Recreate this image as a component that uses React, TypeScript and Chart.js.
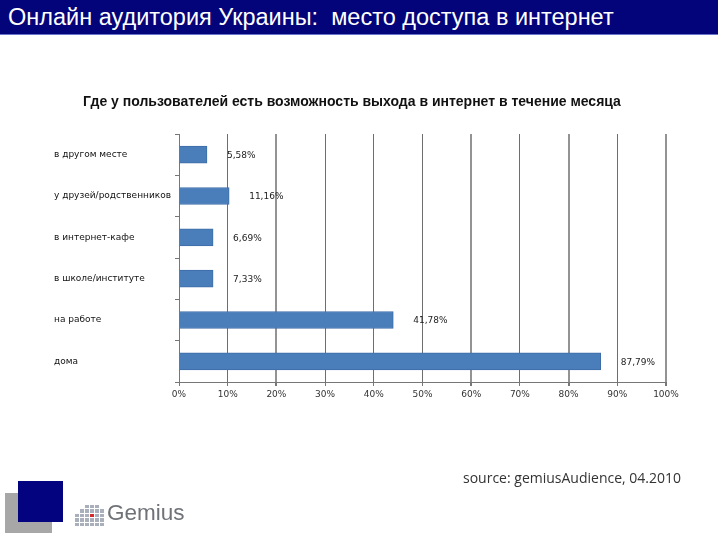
import React, { useEffect, useRef } from "react";
import { Chart, registerables } from "chart.js";

Chart.register(...registerables);

const categories = [
  "в другом месте",
  "у друзей/родственников",
  "в интернет-кафе",
  "в школе/институте",
  "на работе",
  "дома",
];
// bar lengths as drawn in the picture (%)
const barValues = [5.75, 10.3, 7.0, 7.0, 44.0, 86.6];
// value labels as printed in the picture
const valueLabels = ["5,58%", "11,16%", "6,69%", "7,33%", "41,78%", "87,79%"];
const xTicks = [0, 10, 20, 30, 40, 50, 60, 70, 80, 90, 100];

const chartTitle =
  "Где у пользователей есть возможность выхода в интернет в течение месяца";
const headerTitle = "Онлайн аудитория Украины:  место доступа в интернет";
const sourceText = "source: gemiusAudience, 04.2010";

const FONT = "'DejaVu Sans', sans-serif";

const valueLabelPlugin = {
  id: "valueLabels",
  afterDatasetsDraw(chart: any) {
    const ctx = chart.ctx;
    const meta = chart.getDatasetMeta(0);
    ctx.save();
    ctx.font = `9px ${FONT}`;
    ctx.fillStyle = "#222";
    ctx.textAlign = "left";
    ctx.textBaseline = "middle";
    meta.data.forEach((bar: any, i: number) => {
      ctx.fillText(valueLabels[i], bar.x + 20, bar.y + 1);
    });
    ctx.restore();
  },
};

const titlePlugin = {
  id: "customTitle",
  afterDraw(chart: any) {
    const ctx = chart.ctx;
    ctx.save();
    ctx.font = `bold 14px 'Liberation Sans', Arial, sans-serif`;
    ctx.fillStyle = "#111";
    ctx.textAlign = "center";
    ctx.textBaseline = "middle";
    ctx.fillText(chartTitle, 352, 102);
    ctx.restore();
  },
};

function ChartCanvas() {
  const ref = useRef<HTMLCanvasElement>(null);
  useEffect(() => {
    if (!ref.current) return;
    const chart = new Chart(ref.current, {
      type: "bar",
      data: {
        labels: categories,
        datasets: [
          {
            data: barValues,
            backgroundColor: "#4a7ebb",
            borderColor: "#3d6da6",
            borderWidth: 1,
            barThickness: 17,
          },
        ],
      },
      options: {
        indexAxis: "y",
        animation: false,
        responsive: false,
        devicePixelRatio: 1,
        layout: { padding: { left: 54, top: 134, right: 54, bottom: 0 } },
        plugins: {
          legend: { display: false },
          title: { display: false },
          tooltip: { enabled: false },
        },
        scales: {
          x: {
            min: 0,
            max: 100,
            afterBuildTicks(scale: any) {
              scale.ticks = xTicks.map((v) => ({ value: v }));
            },
            afterFit(scale: any) {
              scale.height = 540 - 382;
            },
            ticks: {
              callback: (v: any) => `${v}%`,
              font: { family: FONT, size: 9 },
              color: "#333",
              padding: 3,
              maxRotation: 0,
            },
            grid: {
              color: (c: any) => ([20, 60, 80, 100].includes(c.tick?.value) ? "#939393" : "#6e6e6e"),
              lineWidth: (c: any) => ([20, 60, 80, 100].includes(c.tick?.value) ? 2 : 1),
              tickLength: 4,
              drawTicks: true,
              tickColor: "#777",
            },
            border: { display: true, color: "#777", width: 1 },
          },
          y: {
            afterFit(scale: any) {
              scale.width = 179 - 54;
            },
            ticks: {
              crossAlign: "far",
              font: { family: FONT, size: 9 },
              color: "#111",
              padding: 0,
            },
            grid: {
              drawOnChartArea: false,
              drawTicks: true,
              tickLength: 4,
              tickColor: "#777",
              offset: true,
            },
            border: { display: true, color: "#777", width: 1 },
          },
        },
      },
      plugins: [valueLabelPlugin, titlePlugin],
    });
    return () => chart.destroy();
  }, []);
  return (
    <canvas
      ref={ref}
      width={720}
      height={540}
      style={{ position: "absolute", left: 0, top: 0, width: 720, height: 540 }}
    />
  );
}

function GemiusLogo() {
  const cells: React.ReactNode[] = [];
  const cols = [3, 4, 5, 5, 5, 4];
  for (let c = 0; c < cols.length; c++) {
    for (let r = 0; r < cols[c]; r++) {
      const isRed = c === 3 && r === 2;
      cells.push(
        <div
          key={`${c}-${r}`}
          style={{
            position: "absolute",
            left: c * 5,
            top: 22 - (r + 1) * 4.5,
            width: 4,
            height: 3.5,
            background: isRed ? "#d42a2a" : "#aab0bb",
          }}
        />
      );
    }
  }
  return (
    <div style={{ position: "absolute", left: 75, top: 504, width: 120, height: 26 }}>
      <div style={{ position: "absolute", left: 0, top: 1, width: 30, height: 22 }}>{cells}</div>
      <div
        style={{
          position: "absolute",
          left: 32,
          top: -4,
          fontFamily: "'Liberation Sans', Arial, sans-serif",
          fontSize: 22.5,
          color: "#6f7277",
        }}
      >
        Gemius
      </div>
    </div>
  );
}

export default function App() {
  return (
    <div
      style={{
        position: "fixed",
        left: 0,
        top: 0,
        width: 720,
        height: 540,
        background: "#fff",
        overflow: "hidden",
      }}
    >
      <ChartCanvas />
      <div
        style={{
          position: "absolute",
          left: 0,
          top: 0,
          width: 718,
          height: 34,
          background: "#03037a",
          borderBottom: "1px solid #6a74c8",
        }}
      >
        <div
          style={{
            position: "absolute",
            left: 8,
            top: 3,
            fontFamily: "'Liberation Sans', Arial, sans-serif",
            fontSize: 23.5,
            lineHeight: "28px",
            color: "#fff",
            whiteSpace: "pre",
          }}
        >
          {headerTitle}
        </div>
      </div>
      <div
        style={{
          position: "absolute",
          left: 463,
          top: 468,
          fontFamily: "'Open Sans', sans-serif",
          fontSize: 14,
          color: "#333",
          whiteSpace: "pre",
        }}
      >
        {sourceText}
      </div>
      <div style={{ position: "absolute", left: 5, top: 493, width: 47, height: 40, background: "#a7a7a7" }} />
      <div style={{ position: "absolute", left: 18, top: 481, width: 45, height: 41, background: "#030380" }} />
      <GemiusLogo />
    </div>
  );
}
